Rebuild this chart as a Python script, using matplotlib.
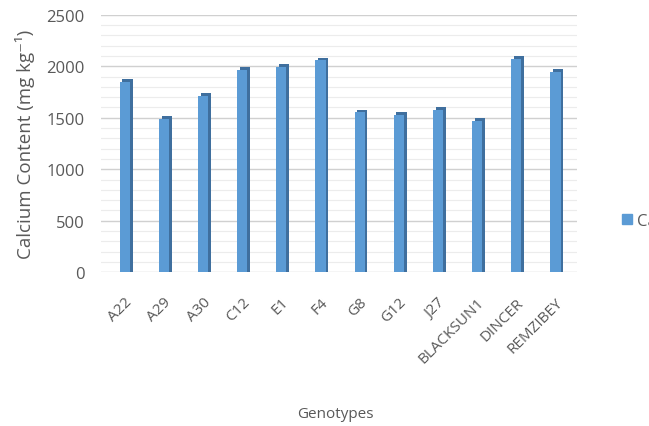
import numpy as np
import matplotlib
matplotlib.use("Agg")
import matplotlib.pyplot as plt
from matplotlib.patches import Patch

# Genotypes and calcium content (mg/kg)
genotypes = ["A22", "A29", "A30", "C12", "E1", "F4", "G8", "G12", "J27",
             "BLACKSUN1", "DINCER", "REMZIBEY"]
calcium = [1850, 1490, 1715, 1965, 1995, 2060, 1555, 1530, 1575, 1470, 2075, 1945]

front = "#5b9bd5"
side = "#3f6f9e"
grey = "#595959"

plt.rcParams["font.family"] = ["Open Sans", "DejaVu Sans"]

fig = plt.figure(figsize=(6.49, 4.27), dpi=100)
ax = fig.add_axes([0.156, 0.36, 0.733, 0.603])

x = np.arange(len(genotypes))
w = 0.26
# side / top face for a pseudo-3D look, then the front face
ax.bar(x + 0.07, np.array(calcium) + 25, width=w, color=side, zorder=2)
ax.bar(x, calcium, width=w, color=front, zorder=3)

ax.set_xlim(-0.6, len(genotypes) - 0.45)
ax.set_ylim(0, 2500)
ax.set_yticks(np.arange(0, 2501, 500))
ax.set_yticks(np.arange(0, 2501, 100), minor=True)
ax.grid(axis="y", which="major", color="#d0d0d0", lw=1.0, zorder=0)
ax.grid(axis="y", which="minor", color="#ececec", lw=0.8, zorder=0)
ax.set_axisbelow(True)
for s in ax.spines.values():
    s.set_visible(False)

ax.tick_params(axis="both", which="both", length=0)
ax.tick_params(axis="y", pad=12, labelsize=12, labelcolor=grey)
ax.set_xticks(x)
ax.set_xticklabels(genotypes, rotation=45, ha="right", rotation_mode="anchor",
                   fontsize=11, color=grey)
ax.tick_params(axis="x", pad=16)

ax.set_ylabel("Calcium Content (mg kg\u207b\u00b9)", fontsize=13.5, color=grey, labelpad=8)
fig.text(0.516, 0.02, "Genotypes", fontsize=11, color=grey, ha="center")

fig.legend(handles=[Patch(color=front, label="Ca")], loc="center left",
           bbox_to_anchor=(0.935, 0.48), frameon=False, fontsize=12,
           handlelength=0.6, handleheight=0.6, handletextpad=0.3,
           labelcolor=grey)

fig.savefig("out.png", dpi=100)
